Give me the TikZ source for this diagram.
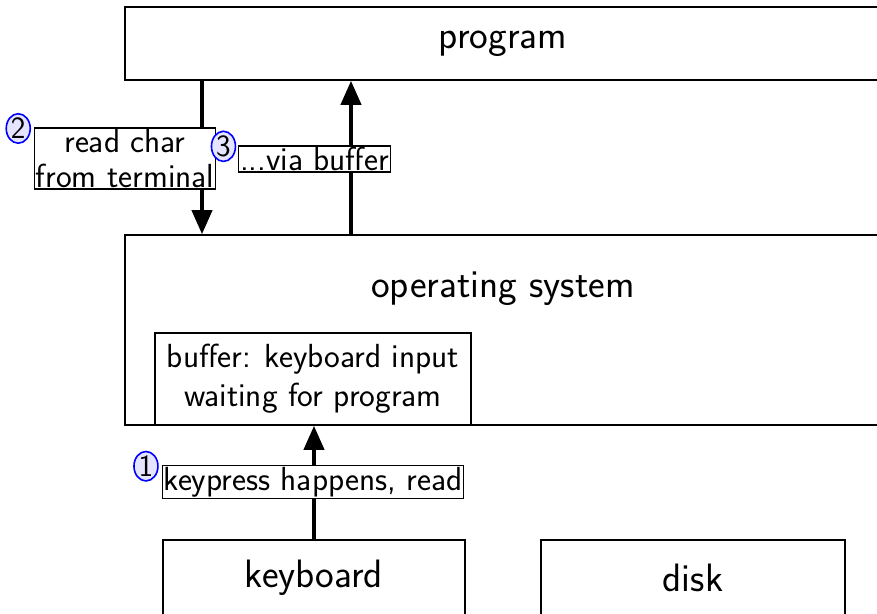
\documentclass[tikz,border=0pt]{standalone}
\usetikzlibrary{arrows.meta,calc,shapes.geometric}
\begin{document}
\begin{tikzpicture}[x=0.5pt,y=-0.5pt,
  font=\sffamily,
  bigfont/.style={font=\sffamily\fontsize{19.8}{23}\selectfont},
  bigbox/.style={draw=black,line width=0.8pt,inner sep=0pt,bigfont},
  midbox/.style={draw=black,line width=0.8pt,align=center,inner sep=0pt,
    font=\sffamily\fontsize{16.7}{19.5}\selectfont},
  tag/.style={draw=black,line width=0.6pt,fill=white,align=center,
    inner sep=0.6pt,font=\sffamily\fontsize{16.7}{17.5}\selectfont},
  stepmark/.style={ellipse,draw=blue,line width=0.8pt,fill=blue!10,
    inner sep=0pt,minimum width=12pt,minimum height=14pt,
    font=\sffamily\fontsize{15.5}{15.5}\selectfont},
  flow/.style={line width=2pt,-{Triangle[length=12pt,width=10pt]}}]
\useasboundingbox (0,0) rectangle (877,614);

% layers
\node[bigbox,minimum width=378pt,minimum height=36.5pt] (program) at (503,43.5) {program};
\node[bigbox,minimum width=378pt,minimum height=95pt,
  label={[bigfont,anchor=center,yshift=-27.5pt]north:operating system}]
  (os) at (503,330) {};
\node[midbox,minimum width=158pt,minimum height=46pt] (buffer) at (313,379)
  {buffer: keyboard input\\waiting for program};
\node[bigbox,minimum width=151pt,minimum height=38pt] (keyboard) at (314,578) {keyboard};
\node[bigbox,minimum width=152pt,minimum height=38pt] (disk) at (693,578) {disk};

% step 1: keypress into the buffer
\draw[flow] (keyboard.north) -- (keyboard.north |- buffer.south);
\node[tag] (t1) at (313,482) {keypress happens, read};
\node[stepmark,anchor=east] (c1) at ($(t1.north west)+(-3,1)$) {1};

% step 2: program asks the OS for a character
\coordinate (p2) at (202,80);
\draw[flow] (program.south -| p2) -- (os.north -| p2);
\node[tag] (t2) at (125,158.5) {read char\\from terminal};
\node[stepmark,anchor=east] (c2) at ($(t2.north west)+(-3,1)$) {2};

% step 3: answer comes back through the buffer
\coordinate (p3) at (351,235);
\draw[flow] (os.north -| p3) -- (program.south -| p3);
\node[tag] (t3) at (314.5,159) {...via buffer};
\node[stepmark,anchor=east] (c3) at ($(t3.north west)+(-2,1)$) {3};
\end{tikzpicture}
\end{document}
